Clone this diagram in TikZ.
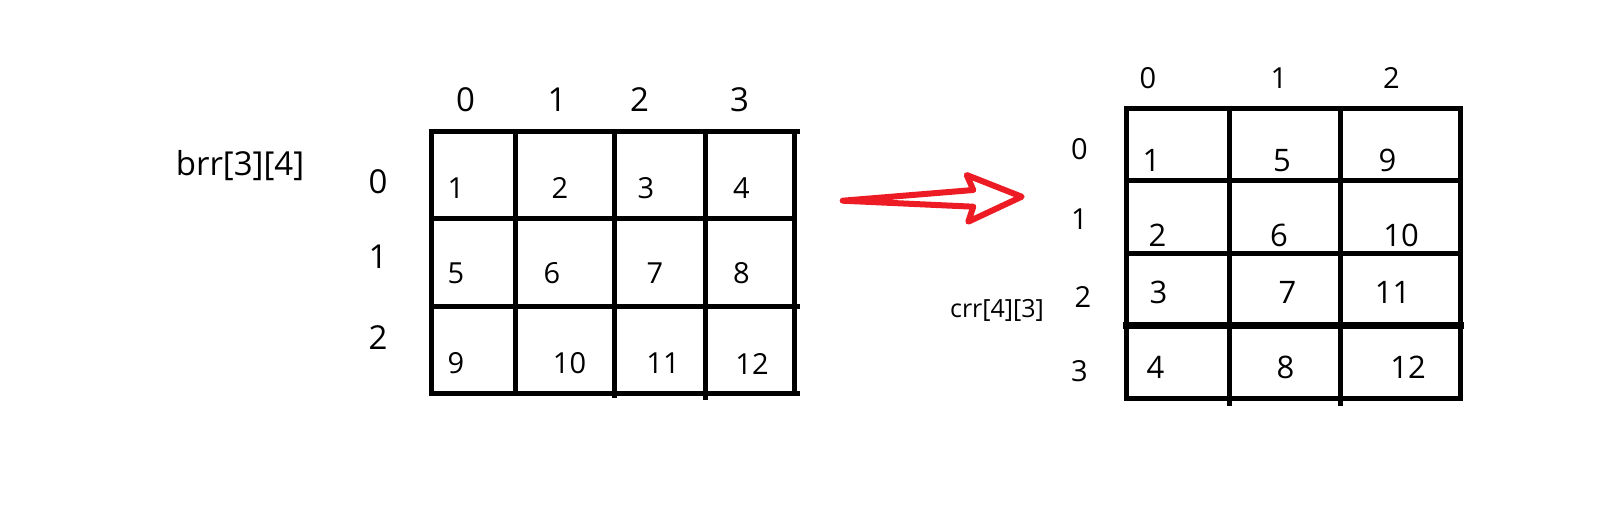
\documentclass[tikz,border=0pt]{standalone}
\usepackage{fontspec}
\setmainfont{Open Sans}
\definecolor{arrowred}{RGB}{237,28,36}
\begin{document}
\begin{tikzpicture}[x=1pt, y=-1pt, line cap=round, line join=round,
    gridline/.style={line width=5pt, line cap=rect},
    num/.style={font=\fontsize{29}{32}\selectfont, inner sep=0pt},
    bignum/.style={font=\fontsize{33}{36}\selectfont, inner sep=0pt},
    arrname/.style={font=\fontsize{33}{36}\selectfont, inner sep=0pt}]
    \useasboundingbox (0,0) rectangle (1615,523);

    % brr[3][4]
    \draw[gridline] (431,131) -- (797,131);
    \draw[gridline] (431,218) -- (793,218);
    \draw[gridline] (431,306) -- (797,306);
    \draw[gridline] (431,393.5) -- (797,393.5);
    \draw[gridline] (431,131) -- (431,393.5);
    \draw[gridline] (515,131) -- (515,393.5);
    \draw[gridline] (614,131) -- (614,395);
    \draw[gridline] (705,131) -- (705,397);
    \draw[gridline] (794,131) -- (794,393.5);

    \node[arrname] (brr) at (240,166) {brr[3][4]};

    \node[bignum] (bc0) at (465.5,100) {0};
    \node[bignum] (bc1) at (557,100) {1};
    \node[bignum] (bc2) at (639.5,100) {2};
    \node[bignum] (bc3) at (739.5,100) {3};

    \node[bignum] (br0) at (378,182) {0};
    \node[bignum] (br1) at (378,257) {1};
    \node[bignum] (br2) at (378,338) {2};

    \node[num] (b00) at (456,188) {1};
    \node[num] (b01) at (560,188) {2};
    \node[num] (b02) at (646,188) {3};
    \node[num] (b03) at (741.5,188) {4};
    \node[num] (b10) at (456,273) {5};
    \node[num] (b11) at (552,273) {6};
    \node[num] (b12) at (655,273) {7};
    \node[num] (b13) at (741.5,273) {8};
    \node[num] (b20) at (456,363.5) {9};
    \node[num] (b21) at (569.5,363.5) {10};
    \node[num] (b22) at (663,363.5) {11};
    \node[num] (b23) at (752,363.5) {12};

    % the arrow
    \draw[arrowred, line width=6pt] (842.7,200.7) -- (973.3,190) -- (966.7,175)
          -- (1021.7,196.7) -- (968.3,221.7) -- (973.3,206.7) -- cycle;

    % crr[4][3]
    \draw[gridline] (1126,108) -- (1460,108);
    \draw[gridline] (1126,180) -- (1460,180);
    \draw[gridline] (1126,253) -- (1460,253);
    \draw[gridline, line width=7pt] (1126,325) -- (1460,325);
    \draw[gridline] (1126,398) -- (1460,398);
    \draw[gridline] (1126,108) -- (1126,398);
    \draw[gridline] (1229,108) -- (1229,403);
    \draw[gridline] (1340,108) -- (1340,403);
    \draw[gridline] (1460,108) -- (1460,398);

    \node[num, font=\fontsize{25}{28}\selectfont] (crr) at (997,310) {crr[4][3]};

    \node[num] (cc0) at (1148,78) {0};
    \node[num] (cc1) at (1279,78) {1};
    \node[num] (cc2) at (1391.5,78) {2};

    \node[num] (cr0) at (1079.5,149.5) {0};
    \node[num] (cr1) at (1079.5,219.5) {1};
    \node[num] (cr2) at (1083,297) {2};
    \node[num] (cr3) at (1079.5,371) {3};

    \node[num, font=\fontsize{31}{34}\selectfont] (c00) at (1151.5,160.5) {1};
    \node[num, font=\fontsize{31}{34}\selectfont] (c01) at (1282,160.5) {5};
    \node[num, font=\fontsize{31}{34}\selectfont] (c02) at (1387.5,160.5) {9};
    \node[num, font=\fontsize{31}{34}\selectfont] (c10) at (1157.5,235) {2};
    \node[num, font=\fontsize{31}{34}\selectfont] (c11) at (1279,235) {6};
    \node[num, font=\fontsize{31}{34}\selectfont] (c12) at (1401,235) {10};
    \node[num, font=\fontsize{31}{34}\selectfont] (c20) at (1158.5,292.5) {3};
    \node[num, font=\fontsize{31}{34}\selectfont] (c21) at (1287.5,292.5) {7};
    \node[num, font=\fontsize{31}{34}\selectfont] (c22) at (1392.5,292.5) {11};
    \node[num, font=\fontsize{31}{34}\selectfont] (c30) at (1155.5,367.5) {4};
    \node[num, font=\fontsize{31}{34}\selectfont] (c31) at (1285.5,367.5) {8};
    \node[num, font=\fontsize{31}{34}\selectfont] (c32) at (1408,367.5) {12};
\end{tikzpicture}
\end{document}
